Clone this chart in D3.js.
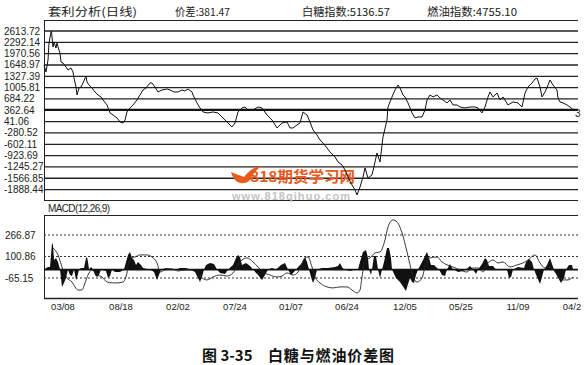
<!DOCTYPE html>
<html>
<head>
	<meta charset="utf-8">
	<script src="https://d3js.org/d3.v7.min.js"></script>
	<title>白糖与燃油价差图</title>
	<style>
		body { margin: 0; background: #fff; }
		text { font-family: "Liberation Sans", Arial, sans-serif; }
		.cjk { font-family: "Noto Sans CJK SC", sans-serif; }
	</style>
</head>
<body>
	<div id="chart"></div>

	<script type="text/javascript">

		// spread (价差) series: trading day index and value
		var spreadDays = [0,4,8,10,14,15,16,18,20,24,26,30,32,34,38,44,48,54,58,60,64,66,70,74,78,84,86,90,96,102,108,114,118,126,132,138,146,152,158,162,166,172,178,186,192,198,204,212,216,222,228,236,246,252,260,268,276,282,288,296,298,306,312,318,328,338,348,356,366,376,382,388,396,402,408,418,428,436,446,456,466,476,486,492,498,506,512,518,526,532,538,546,552,558,566,572,582,588,596,602,608,616,622,626,632,638,642,648,656,662,666,672,678,686,688,696,702,708,712,718,722,728,736,742,748,756,762,766,772,778,786,792,798,806,812,818,826,832,842,852,862,868,876,882,888,892,898,906,912,918,928,938,948,956,962,968,976,982,986,992,996,1002,1008,1012,1018,1026,1028,1032,1038,1046,1052,1058];
		var spreadValues = [1649,1450,1791,2273,2585,2614,2443,2160,2302,2131,2273,2075,1989,1734,1706,1592,1507,1564,1450,1280,1024,798,996,1024,1138,1337,1166,1081,996,883,798,741,656,514,287,230,145,31,3,88,315,429,514,656,798,939,996,1138,1138,1024,883,939,968,939,883,883,939,911,968,883,798,571,429,315,287,315,287,173,31,-111,3,315,429,457,372,372,457,429,230,88,-139,3,31,-139,-139,-54,3,315,230,31,-196,-338,-480,-565,-707,-820,-962,-1104,-1189,-1331,-1530,-1757,-1899,-2041,-1814,-1530,-1274,-1558,-1473,-1104,-849,-1104,-395,88,457,741,939,1081,996,798,741,571,287,145,173,173,372,656,798,741,798,712,656,571,656,514,514,457,429,457,457,429,287,457,741,883,741,854,656,741,514,599,571,457,854,1024,1138,1251,1280,1024,741,883,1081,1223,1081,939,712,599,571,514,457,381];

		// MACD line
		var macdDays = [18,28,38,46,56,62,68,76,82,88,96,106,116,126,136,146,158,166,168,176,182,192,206,216,226,232,242,256,268,282,296,306,316,326,338,352,366,378,388,396,406,418,428,438,452,466,476,486,498,508,522,528,536,542,552,566,578,592,606,616,626,632,636,642,652,662,672,682,688,698,706,716,726,732,738,746,756,762,772,786,796,806,818,832,846,856,868,878,888,898,908,918,932,946,958,968,982,992,1002,1012,1022,1036,1048,1058];
		var macdValues = [167,113,-3,-65,-96,-134,-158,-158,-103,-42,-3,-42,-57,-96,-103,-103,-96,-26,36,90,97,113,113,97,51,-19,-3,5,-11,-3,-3,-19,-65,-80,-57,-42,-50,-26,36,74,90,59,20,-19,-42,-57,-50,-26,-42,-19,90,97,20,-57,-103,-134,-142,-134,-134,-158,-181,-158,-57,74,90,128,136,229,329,383,368,283,136,36,-57,-96,-65,20,90,97,59,36,20,-3,-19,12,12,-19,51,74,51,59,20,36,51,74,113,51,12,20,-19,-80,-80,-57];

		// MACD histogram
		var histDays = [0,8,12,16,18,20,24,28,32,36,40,44,48,52,56,60,64,66,70,74,80,84,86,88,90,94,98,102,106,110,114,124,128,132,136,142,152,160,164,168,172,176,180,184,188,194,198,206,212,220,226,230,234,244,256,264,272,284,292,302,308,312,316,320,324,332,340,346,352,362,368,378,384,388,392,396,404,412,418,428,436,442,448,456,464,474,482,488,494,500,504,510,516,522,526,530,534,538,542,546,556,568,582,588,592,596,600,612,624,628,632,638,644,648,650,654,656,660,664,668,672,676,680,686,690,694,696,704,712,720,724,728,732,736,740,744,748,754,760,766,770,774,780,786,790,796,802,806,812,816,820,828,838,844,852,858,864,868,876,882,886,890,898,904,926,930,934,938,948,960,964,970,976,980,986,992,996,1000,1006,1012,1016,1020,1026,1034,1040,1044,1050,1056,1058];
		var histValues = [0,20,20,205,190,74,90,59,0,-134,-103,-65,0,-42,-50,0,-80,-65,0,12,12,90,97,59,0,20,0,-42,-57,-42,0,-11,-65,-50,0,-19,-19,0,59,113,136,90,74,36,59,36,12,5,0,-19,-80,-42,0,12,5,0,12,12,0,-19,-65,-96,-57,0,36,51,43,0,-26,-34,0,36,90,113,97,36,51,28,0,-42,-80,-42,0,12,0,36,51,0,-42,-19,0,28,51,97,59,0,-57,-103,-65,0,12,12,20,28,51,20,0,-11,5,0,59,136,151,90,0,-42,0,105,105,0,-65,0,59,167,167,90,0,-65,-96,-142,-165,-111,-65,-96,-103,-42,0,43,90,136,90,36,36,12,0,-42,-50,0,43,12,0,-19,-11,0,28,0,-34,0,43,90,74,28,28,0,0,-65,-57,0,20,12,59,82,59,0,-57,-111,-57,0,36,90,43,0,-50,-103,-65,0,36,36,0];

		// axis labels
		var yTickValues = [2613.72,2292.14,1970.56,1648.97,1327.39,1005.81,684.22,362.64,41.06,-280.52,-602.11,-923.69,-1245.27,-1566.85,-1888.44];
		var macdTickValues = [266.87,100.86,-65.15];
		var xTickDays = [38,154,268,382,494,606,722,834,948,1056];
		var xTickLabels = ["03/08","08/18","02/02","07/24","01/07","06/24","12/05","05/25","11/09","04/2"];
		var lastSpread = 381.47;

		var svgwidth = 586, svgheight = 365;
		var left = 44, right = 578;

		var svg = d3.select("#chart").append("svg")
				.attr("width", svgwidth)
				.attr("height", svgheight);

		var xScale = d3.scaleLinear().domain([0, 1058]).range([44, 573]);
		var yScale = d3.scaleLinear().domain([-1888.44, 2613.72]).range([189.6, 31]);
		var mScale = d3.scaleLinear().domain([-65.15, 266.87]).range([278, 235]);

		// header
		var heads = [
			{t: "套利分析(日线)", x: 48, w: 89},
			{t: "价差:381.47", x: 175, w: 55},
			{t: "白糖指数:5136.57", x: 302, w: 88},
			{t: "燃油指数:4755.10", x: 427, w: 90}
		];
		svg.selectAll(".head").data(heads).enter().append("text")
			.attr("class", "head cjk")
			.attr("x", function(d){ return d.x; })
			.attr("y", 16)
			.attr("textLength", function(d){ return d.w; })
			.attr("lengthAdjust", "spacingAndGlyphs")
			.attr("font-size", 11)
			.attr("fill", "#222")
			.text(function(d){ return d.t; });

		// upper panel frame
		svg.append("line").attr("x1", left).attr("x2", right).attr("y1", 20.5).attr("y2", 20.5).attr("stroke", "#222");
		svg.append("line").attr("x1", left).attr("x2", right).attr("y1", 200.5).attr("y2", 200.5).attr("stroke", "#222");
		svg.append("line").attr("x1", left + 0.5).attr("x2", left + 0.5).attr("y1", 20).attr("y2", 200).attr("stroke", "#222");

		svg.selectAll(".grid").data(yTickValues).enter().append("line")
			.attr("x1", left).attr("x2", right)
			.attr("y1", function(d){ return yScale(d); })
			.attr("y2", function(d){ return yScale(d); })
			.attr("stroke", "#222").attr("stroke-width", 1.3);

		svg.selectAll(".ylab").data(yTickValues).enter().append("text")
			.attr("x", 4)
			.attr("y", function(d){ return yScale(d); })
			.attr("dy", "0.35em")
			.attr("font-size", 10)
			.attr("fill", "#222")
			.text(function(d){ return d.toFixed(2); });

		// current value line
		svg.append("line").attr("x1", left).attr("x2", right)
			.attr("y1", yScale(lastSpread)).attr("y2", yScale(lastSpread))
			.attr("stroke", "#111").attr("stroke-width", 2);

		// value tag at the right edge, only its first digit fits
		svg.append("text")
			.attr("x", 575).attr("y", yScale(lastSpread) + 4)
			.attr("dy", "0.35em").attr("font-size", 10).attr("fill", "#222")
			.text(String(lastSpread).charAt(0));

		// watermark
		var wm = svg.append("g");
		wm.append("path")
			.attr("d", "M231,172 C234,184 244,186 250,180 C252,176 255,170 262,166 C254,166 248,172 244,177 C241,176 236,174 231,172 Z")
			.attr("fill", "#ea5a1e");
		wm.append("text").attr("class", "cjk")
			.attr("x", 250).attr("y", 182)
			.attr("font-size", 15).attr("font-weight", "bold")
			.attr("textLength", 105).attr("lengthAdjust", "spacingAndGlyphs")
			.attr("fill", "#ea5a1e")
			.text("818期货学习网");
		wm.append("text")
			.attr("x", 232).attr("y", 200)
			.attr("font-size", 11).attr("font-weight", "bold")
			.attr("textLength", 118).attr("lengthAdjust", "spacing")
			.attr("fill", "#c4c4c4")
			.text("www.818qihuo.com");

		// spread line
		var spread = spreadDays.map(function(d, i){ return [d, spreadValues[i]]; });
		svg.append("path").datum(spread)
			.attr("fill", "none").attr("stroke", "#111").attr("stroke-width", 1)
			.attr("d", d3.line()
				.x(function(d){ return xScale(d[0]); })
				.y(function(d){ return yScale(d[1]); }));

		// MACD panel
		svg.append("text").attr("x", 48).attr("y", 212)
			.attr("font-size", 10).attr("fill", "#222")
			.attr("textLength", 62)
			.text("MACD(12,26,9)");
		svg.append("line").attr("x1", left).attr("x2", right).attr("y1", 215.5).attr("y2", 215.5).attr("stroke", "#222");
		svg.append("line").attr("x1", left).attr("x2", right).attr("y1", 298.5).attr("y2", 298.5).attr("stroke", "#222").attr("stroke-width", 1.3);
		svg.append("line").attr("x1", left + 0.5).attr("x2", left + 0.5).attr("y1", 215).attr("y2", 299).attr("stroke", "#222");

		svg.selectAll(".mgrid").data(macdTickValues).enter().append("line")
			.attr("x1", left).attr("x2", right)
			.attr("y1", function(d){ return mScale(d); })
			.attr("y2", function(d){ return mScale(d); })
			.attr("stroke", "#333").attr("stroke-dasharray", "2,2");

		svg.selectAll(".mlab").data(macdTickValues).enter().append("text")
			.attr("x", 5)
			.attr("y", function(d){ return mScale(d); })
			.attr("dy", "0.35em")
			.attr("font-size", 10)
			.attr("fill", "#222")
			.text(function(d){ return d.toFixed(2); });

		var hist = histDays.map(function(d, i){ return [d, histValues[i]]; });
		svg.append("path").datum(hist)
			.attr("fill", "#111")
			.attr("d", d3.area()
				.x(function(d){ return xScale(d[0]); })
				.y0(mScale(0))
				.y1(function(d){ return mScale(d[1]); }));

		svg.append("line").attr("x1", left).attr("x2", right)
			.attr("y1", mScale(0)).attr("y2", mScale(0))
			.attr("stroke", "#111").attr("stroke-width", 1.8);

		var macd = macdDays.map(function(d, i){ return [d, macdValues[i]]; });
		svg.append("path").datum(macd)
			.attr("fill", "none").attr("stroke", "#222").attr("stroke-width", 0.9)
			.attr("d", d3.line()
				.curve(d3.curveMonotoneX)
				.x(function(d){ return xScale(d[0]); })
				.y(function(d){ return mScale(d[1]); }));

		// x labels
		svg.selectAll(".xlab").data(xTickDays).enter().append("text")
			.attr("x", function(d){ return xScale(d); })
			.attr("y", 307)
			.attr("dy", "0.35em")
			.attr("text-anchor", "middle")
			.attr("font-size", 9.5)
			.attr("fill", "#222")
			.text(function(d, i){ return xTickLabels[i]; });

		// caption
		svg.append("text").attr("class", "cjk")
			.attr("x", 202).attr("y", 361)
			.attr("font-size", 15).attr("font-weight", "bold")
			.attr("fill", "#111")
			.text("图 3-35");
		svg.append("text").attr("class", "cjk")
			.attr("x", 268).attr("y", 361)
			.attr("font-size", 15).attr("font-weight", "bold")
			.attr("textLength", 126)
			.attr("fill", "#111")
			.text("白糖与燃油价差图");

	</script>
</body>
</html>
